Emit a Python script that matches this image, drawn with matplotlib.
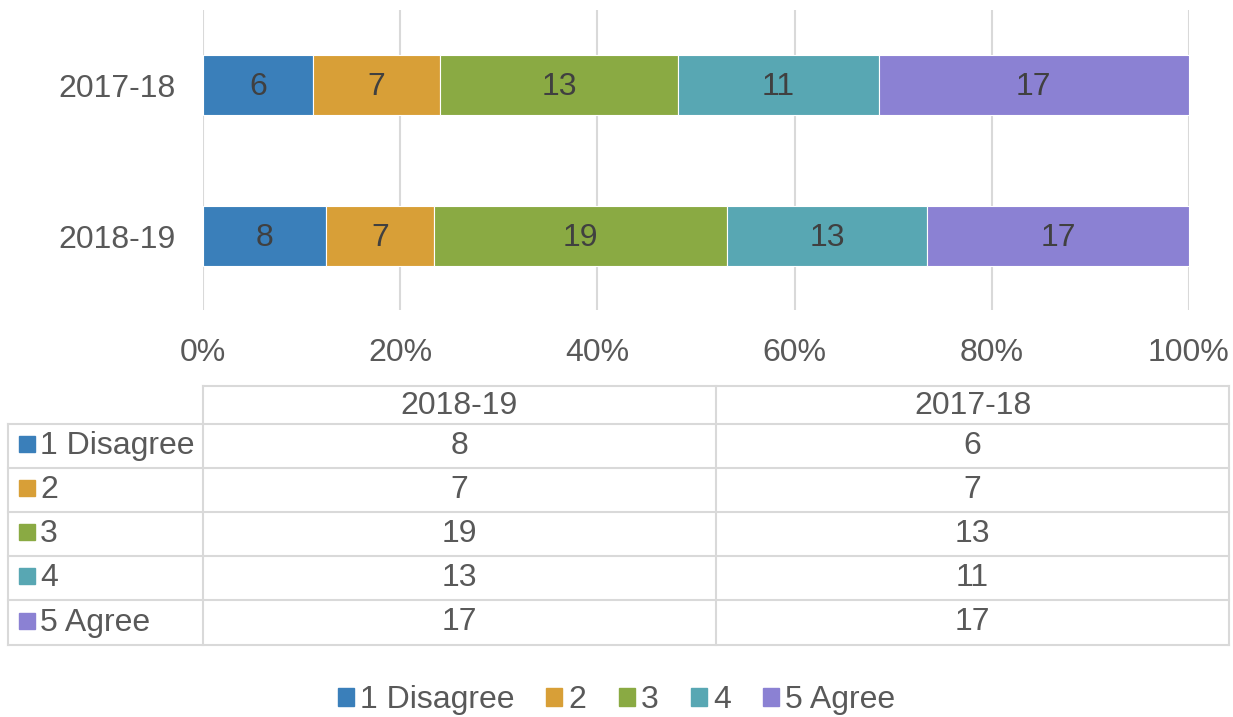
import matplotlib.pyplot as plt
import matplotlib.ticker as ticker
from matplotlib.patches import Patch
import numpy as np

# data
years = ['2018-19', '2017-18']            # bottom to top
levels = ['1 Disagree', '2', '3', '4', '5 Agree']
counts = {
    '2018-19': [8, 7, 19, 13, 17],
    '2017-18': [6, 7, 13, 11, 17],
}
table_cols = ['2018-19', '2017-18']
colors = ['#3A7FBA', '#D89F37', '#8AAA43', '#58A7B3', '#8B81D3']

plt.rcParams['font.family'] = ['Liberation Sans', 'DejaVu Sans']
txt = '#595959'
grid = '#D9D9D9'
fs = 23
W, H = 1233, 717

fig = plt.figure(figsize=(W / 100, H / 100), dpi=100)
ax = fig.add_axes([203 / W, 1 - 310 / H, (1189 - 203) / W, 300 / H])

ypos = np.arange(len(years))
vals = np.array([counts[y] for y in years], dtype=float)
pct = vals / vals.sum(axis=1, keepdims=True) * 100
left = np.zeros(len(years))
for j, lev in enumerate(levels):
    bars = ax.barh(ypos, pct[:, j], left=left, height=0.397, color=colors[j],
                   edgecolor='white', linewidth=0.8, zorder=3)
    for i, b in enumerate(bars):
        ax.text(left[i] + pct[i, j] / 2, ypos[i] - 0.01, str(int(vals[i, j])),
                ha='center', va='center', fontsize=fs, color='#404040', zorder=4)
    left += pct[:, j]

ax.set_xlim(0, 100)
ax.set_ylim(-0.49, 1.497)
ax.set_xticks(np.arange(0, 101, 20))
ax.xaxis.set_major_formatter(ticker.FuncFormatter(lambda v, p: '%d%%' % v))
ax.set_yticks(ypos)
ax.set_yticklabels(years)
ax.tick_params(length=0, labelsize=fs, labelcolor=txt)
ax.tick_params(axis='x', pad=20)
ax.tick_params(axis='y', pad=20)
ax.grid(axis='x', color=grid, linewidth=1.5, zorder=0)
for s in ax.spines.values():
    s.set_visible(False)

# data table below the chart
tax = fig.add_axes([0, 0, 1, 1])
tax.set_xlim(0, W)
tax.set_ylim(H, 0)
tax.axis('off')
col_x = [8, 203, 716, 1229]
row_y = [386, 424, 468, 512, 556, 600, 645]
lw = 1.5
tax.plot([203, 1229], [row_y[0], row_y[0]], color=grid, lw=lw)
for k in range(1, len(row_y)):
    tax.plot([8, 1229], [row_y[k], row_y[k]], color=grid, lw=lw)
tax.plot([8, 8], [row_y[1], row_y[-1]], color=grid, lw=lw)
for x in col_x[1:]:
    tax.plot([x, x], [row_y[0], row_y[-1]], color=grid, lw=lw)
for c, name in enumerate(table_cols):
    xc = (col_x[c + 1] + col_x[c + 2]) / 2
    tax.text(xc, (row_y[0] + row_y[1]) / 2 + 1, name, ha='center', va='center',
             fontsize=fs, color=txt)
for r, lev in enumerate(levels):
    yc = (row_y[r + 1] + row_y[r + 2]) / 2
    tax.add_patch(plt.Rectangle((19, yc - 10), 16, 16, color=colors[r]))
    tax.text(40, yc, lev, ha='left', va='center', fontsize=fs, color=txt)
    for c, name in enumerate(table_cols):
        xc = (col_x[c + 1] + col_x[c + 2]) / 2
        tax.text(xc, yc, str(counts[name][r]), ha='center', va='center',
                 fontsize=fs, color=txt)

handles = [Patch(color=colors[j], label=levels[j]) for j in range(len(levels))]
fig.legend(handles=handles, loc='center', bbox_to_anchor=(0.5, 1 - 700 / H),
           ncol=5, frameon=False, fontsize=fs, labelcolor=txt,
           handlelength=0.5, handleheight=0.5, handletextpad=0.2,
           columnspacing=1.0)

fig.savefig('out.png', dpi=100)
